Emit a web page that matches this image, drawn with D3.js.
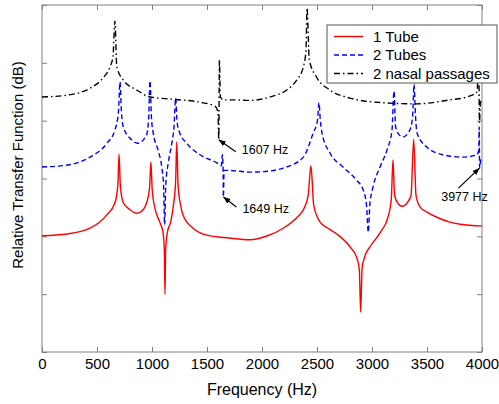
<!DOCTYPE html>
<html>
<head>
<meta charset="utf-8">
<script src="https://cdn.jsdelivr.net/npm/d3@7"></script>
<style>
  body { margin: 0; background: #fff; }
  svg { font-family: Arial, "Liberation Sans", sans-serif; }
</style>
</head>
<body>
<div id="chart"></div>
<script>
// frequency (Hz) and relative level (arbitrary dB, 0-60 frame)
const oneTubeFreq = [0, 225, 436, 590, 663, 690, 700, 712, 737, 800, 862, 920, 951, 978, 990, 1002, 1030, 1070, 1100, 1112, 1118, 1124, 1140, 1170, 1195, 1215, 1225, 1237, 1260, 1282, 1373, 1500, 1700, 1891, 2050, 2193, 2320, 2376, 2420, 2445, 2470, 2527, 2600, 2680, 2800, 2860, 2885, 2897, 2910, 2940, 2982, 3073, 3145, 3175, 3191, 3205, 3240, 3275, 3320, 3355, 3379, 3400, 3436, 3500, 3590, 3700, 3800, 4000];
const oneTubeDb = [20.1, 20.4, 21.4, 23.7, 25.8, 28.9, 34.2, 28.9, 25.9, 24.6, 24.0, 24.6, 25.8, 28.4, 32.9, 28.0, 24.6, 22.5, 20.7, 17.6, 10.0, 17.6, 20.7, 22.5, 25.4, 29.6, 36.3, 28.9, 25.4, 23.7, 21.4, 20.2, 19.7, 19.4, 20.1, 21.4, 23.3, 24.6, 27.1, 32.2, 25.4, 22.5, 21.4, 20.4, 18.2, 16.4, 14.2, 6.9, 14.5, 16.8, 18.2, 20.6, 23.3, 26.3, 33.2, 27.1, 25.6, 25.2, 25.8, 27.1, 36.8, 27.1, 25.1, 24.2, 23.3, 22.5, 22.1, 21.8];

const twoTubesFreq = [0, 225, 436, 590, 663, 695, 709, 722, 740, 815, 870, 950, 970, 982, 995, 1011, 1055, 1090, 1105, 1115, 1125, 1148, 1180, 1200, 1215, 1228, 1250, 1315, 1436, 1590, 1630, 1640, 1646, 1649, 1655, 1700, 1891, 2073, 2193, 2376, 2466, 2505, 2518, 2530, 2545, 2618, 2736, 2860, 2920, 2950, 2966, 2980, 3009, 3073, 3136, 3182, 3200, 3215, 3250, 3282, 3345, 3370, 3382, 3395, 3409, 3500, 3645, 3827, 3955, 3970, 3975, 3978, 3988, 4000];
const twoTubesDb = [32.0, 32.3, 33.7, 36.1, 38.4, 41.5, 46.7, 41.5, 38.9, 36.7, 36.1, 37.5, 40.5, 46.9, 40.5, 37.9, 34.9, 31.8, 28.9, 22.0, 28.9, 32.7, 36.1, 38.9, 43.9, 39.8, 38.0, 36.1, 34.1, 32.7, 32.2, 34.1, 31.6, 26.8, 31.4, 31.4, 31.1, 31.3, 31.8, 33.7, 37.9, 40.1, 43.1, 40.1, 37.9, 34.4, 32.0, 29.7, 28.0, 25.4, 20.7, 25.4, 28.5, 32.0, 34.9, 38.4, 45.1, 38.9, 37.5, 37.2, 38.4, 41.0, 46.3, 41.0, 37.9, 35.4, 34.1, 33.7, 34.1, 34.9, 38.9, 31.8, 33.2, 33.5];

const nasalFreq = [0, 225, 436, 555, 618, 645, 663, 680, 740, 862, 982, 1191, 1436, 1573, 1600, 1607, 1613, 1622, 1650, 1736, 1891, 2073, 2224, 2315, 2376, 2400, 2409, 2430, 2497, 2618, 2800, 3100, 3405, 3709, 3864, 3955, 3970, 3977, 3985, 4000];
const nasalDb = [44.1, 44.4, 45.6, 47.4, 49.3, 51.0, 57.2, 49.3, 47.0, 45.3, 44.1, 43.7, 43.2, 42.5, 41.5, 36.7, 50.5, 44.1, 43.6, 43.6, 43.5, 44.1, 45.3, 47.0, 49.3, 52.2, 59.5, 50.5, 47.5, 45.3, 43.9, 43.1, 42.9, 43.6, 44.1, 45.0, 50.5, 39.6, 43.1, 43.6];

const xTicks = [0, 500, 1000, 1500, 2000, 2500, 3000, 3500, 4000];
const yTicks = [0, 10, 20, 30, 40, 50, 60];

const seriesNames = ["1 Tube", "2 Tubes", "2 nasal passages"];
const seriesColors = ["#ff0000", "#0000ff", "#000000"];
const seriesDash = [null, "5,3", "6,3,1.5,3"];

const noteLabels = ["1607 Hz", "1649 Hz", "3977 Hz"];
const noteFreq = [1607, 1649, 3977];
const noteDb = [36.7, 26.8, 31.8];

const width = 499, height = 404;
const margin = { left: 42, right: 17, top: 5, bottom: 52 };

const svg = d3.select("#chart").append("svg")
  .attr("width", width)
  .attr("height", height);

const x = d3.scaleLinear().domain([0, 4000]).range([margin.left, width - margin.right]);
const y = d3.scaleLinear().domain([0, 60]).range([height - margin.bottom, margin.top]);

const axisColor = "#808080";

// --- axes (ticks point inward, box all round) ---
const gx = svg.append("g")
  .attr("transform", `translate(0,${y(0)})`)
  .call(d3.axisBottom(x).tickValues(xTicks).tickFormat(d3.format("d"))
    .tickSizeInner(-5).tickSizeOuter(0).tickPadding(6));
const gxTop = svg.append("g")
  .attr("transform", `translate(0,${y(60)})`)
  .call(d3.axisTop(x).tickValues(xTicks).tickSizeInner(-5).tickSizeOuter(0).tickFormat(""));
const gy = svg.append("g")
  .attr("transform", `translate(${x(0)},0)`)
  .call(d3.axisLeft(y).tickValues(yTicks).tickSizeInner(-5).tickSizeOuter(0).tickFormat(""));
const gyRight = svg.append("g")
  .attr("transform", `translate(${x(4000)},0)`)
  .call(d3.axisRight(y).tickValues(yTicks).tickSizeInner(-5).tickSizeOuter(0).tickFormat(""));

[gx, gxTop, gy, gyRight].forEach(g => {
  g.select(".domain").remove();
  g.selectAll(".tick line").attr("stroke", axisColor);
});
gx.selectAll(".tick text")
  .attr("fill", "#000")
  .style("font-size", "15px");

svg.append("rect")
  .attr("x", x(0))
  .attr("y", y(60))
  .attr("width", x(4000) - x(0))
  .attr("height", y(0) - y(60))
  .attr("fill", "none")
  .attr("stroke", axisColor)
  .attr("stroke-width", 1);

// --- axis titles ---
svg.append("text")
  .attr("x", (x(0) + x(4000)) / 2)
  .attr("y", 395)
  .attr("text-anchor", "middle")
  .style("font-size", "16px")
  .text("Frequency (Hz)");

svg.append("text")
  .attr("transform", "translate(23,165) rotate(-90)")
  .attr("text-anchor", "middle")
  .style("font-size", "15px")
  .text("Relative Transfer Function (dB)");

// --- curves ---
const series = [
  oneTubeFreq.map((f, i) => ({ f, v: oneTubeDb[i] })),
  twoTubesFreq.map((f, i) => ({ f, v: twoTubesDb[i] })),
  nasalFreq.map((f, i) => ({ f, v: nasalDb[i] }))
];

const line = d3.line()
  .x(d => x(d.f))
  .y(d => y(d.v))
  .curve(d3.curveMonotoneX);

svg.append("clipPath").attr("id", "plotClip")
  .append("rect")
  .attr("x", x(0)).attr("y", y(60))
  .attr("width", x(4000) - x(0)).attr("height", y(0) - y(60));

const plot = svg.append("g").attr("clip-path", "url(#plotClip)");

series.forEach((s, i) => {
  plot.append("path")
    .datum(s)
    .attr("d", line)
    .attr("fill", "none")
    .attr("stroke", seriesColors[i])
    .attr("stroke-width", 1.4)
    .attr("stroke-dasharray", seriesDash[i]);
});

// --- annotations ---
svg.append("defs").append("marker")
  .attr("id", "arrowHead")
  .attr("viewBox", "0 0 10 10")
  .attr("refX", 10).attr("refY", 5)
  .attr("markerWidth", 7).attr("markerHeight", 7)
  .attr("markerUnits", "userSpaceOnUse")
  .attr("orient", "auto")
  .append("path")
  .attr("d", "M0,1 L10,5 L0,9 Z")
  .attr("fill", "#000");

const tailOffset = [[17, 12], [13, 10], [-21, 20]];
const textOffset = [[23, 10], [19, 12], [-15, 29]];
const textAnchor = ["start", "start", "middle"];

noteLabels.forEach((label, i) => {
  const hx = x(noteFreq[i]), hy = y(noteDb[i]);
  svg.append("line")
    .attr("x1", hx + tailOffset[i][0]).attr("y1", hy + tailOffset[i][1])
    .attr("x2", hx).attr("y2", hy)
    .attr("stroke", "#000")
    .attr("stroke-width", 1.2)
    .attr("marker-end", "url(#arrowHead)");
  svg.append("text")
    .attr("x", hx + textOffset[i][0])
    .attr("y", hy + textOffset[i][1])
    .attr("dy", "0.35em")
    .attr("text-anchor", textAnchor[i])
    .style("font-size", "12.5px")
    .text(label);
});

// --- legend ---
const legend = svg.append("g").attr("transform", "translate(327,25)");
legend.append("rect")
  .attr("width", 170)
  .attr("height", 58)
  .attr("fill", "#fff")
  .attr("stroke", "#555")
  .attr("stroke-width", 1);

seriesNames.forEach((name, i) => {
  const ly = 11.5 + i * 18.5;
  legend.append("line")
    .attr("x1", 7).attr("x2", 36)
    .attr("y1", ly).attr("y2", ly)
    .attr("stroke", seriesColors[i])
    .attr("stroke-width", 1.4)
    .attr("stroke-dasharray", seriesDash[i]);
  legend.append("text")
    .attr("x", 46)
    .attr("y", ly)
    .attr("dy", "0.35em")
    .style("font-size", "15px")
    .text(name);
});
</script>
</body>
</html>
